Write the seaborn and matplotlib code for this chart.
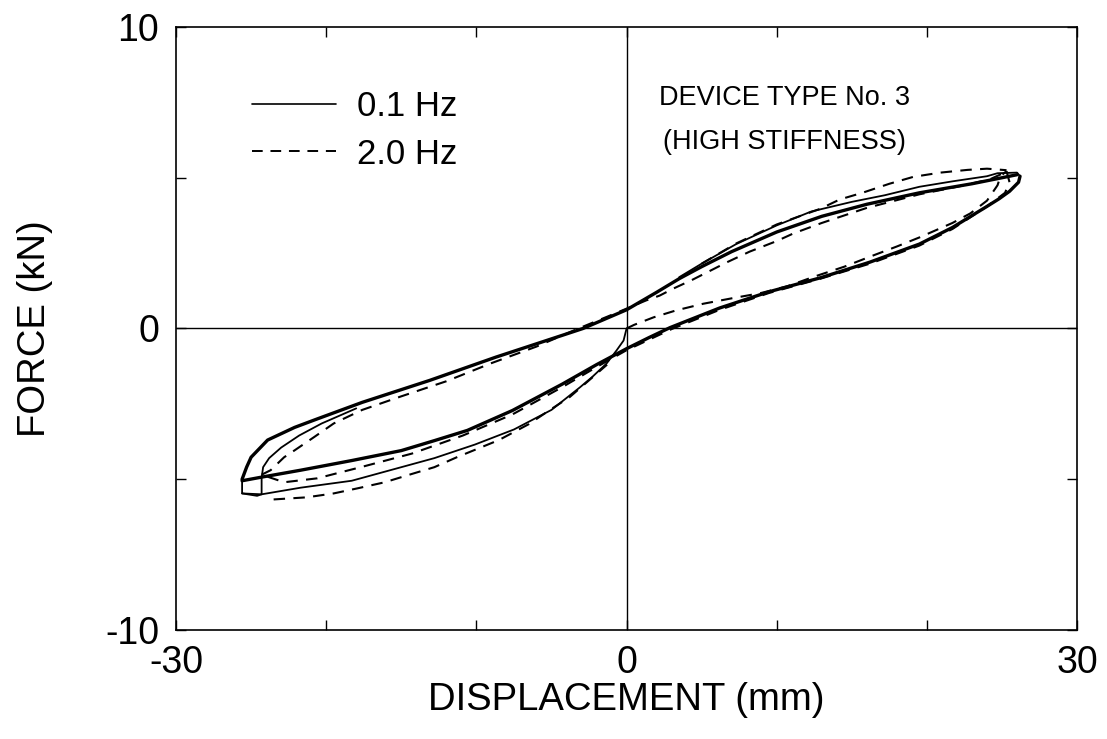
import matplotlib
matplotlib.use("Agg")
import matplotlib.pyplot as plt
import pandas as pd
import seaborn as sns
from matplotlib.lines import Line2D

sns.set_theme(style="ticks")
plt.rcParams['font.family'] = ['Liberation Sans', 'DejaVu Sans']
plt.rcParams['text.color'] = 'black'
plt.rcParams['axes.labelcolor'] = 'black'
plt.rcParams['xtick.color'] = 'black'
plt.rcParams['ytick.color'] = 'black'

# ---------------- data (displacement mm, force kN) ----------------
# 0.1 Hz (solid)
sv_d = [0, -0.2, -0.67, -1.33, -2.27, -3.1, -5.0, -7.5, -10.1, -12.8, -16.1, -18.3, -21.7, -24.3, -25.6, -25.6]
sv_f = [0, -0.4, -0.73, -1.16, -1.6, -1.95, -2.7, -3.35, -3.85, -4.3, -4.75, -5.05, -5.28, -5.5, -5.47, -5.0]

su_d = [-25.6, -25.3, -25.0, -23.9, -22.1, -20.6, -17.6, -13.1, -8.7, -4.3, -2.9, 0, 2, 3.5, 5, 7, 10, 13, 16, 19.5, 23, 24.7, 26]
su_f = [-5.0, -4.6, -4.27, -3.7, -3.28, -3.0, -2.45, -1.72, -0.95, -0.23, 0.0, 0.62, 1.2, 1.65, 2.05, 2.55, 3.2, 3.72, 4.12, 4.5, 4.8, 4.97, 5.1]

so_d = [3.5, 5, 7.3, 10, 12.3, 15, 17.2, 19.5, 21.7, 24, 24.7, 26, 26.2]
so_f = [1.7, 2.15, 2.8, 3.42, 3.88, 4.2, 4.42, 4.7, 4.88, 5.05, 5.15, 5.17, 5.05]

sl_d = [26.2, 26.1, 25.8, 25.5, 24.8, 24, 21.7, 19.5, 16.2, 12.9, 9.5, 6.2, 2.9, 1.5, 0, -2, -4.3, -7.6, -10.6, -12.8, -15, -18.3, -21.7, -24.3, -25.6]
sl_f = [5.05, 4.85, 4.7, 4.55, 4.3, 4.05, 3.35, 2.8, 2.2, 1.68, 1.22, 0.68, 0.03, -0.3, -0.67, -1.2, -1.85, -2.72, -3.38, -3.72, -4.05, -4.38, -4.7, -4.93, -5.05]

si_d = [-25.6, -24.6, -24.3, -24.3, -24.2, -23.8, -23.0, -21.8, -20.3, -18.0]
si_f = [-5.47, -5.55, -5.5, -4.95, -4.6, -4.3, -3.95, -3.55, -3.15, -2.65]

# 2.0 Hz (dashed)
dv_d = [0, 0.5, 1.8, 3.3, 5.1, 7.0, 8.9, 10.7, 12.5, 14.5, 16.2, 18.0, 19.5, 21.7, 22.9, 24.0, 24.7, 24.9, 25.3]
dv_f = [0, 0.12, 0.37, 0.6, 0.82, 1.0, 1.17, 1.4, 1.72, 2.05, 2.38, 2.72, 3.02, 3.5, 3.82, 4.24, 4.75, 5.05, 5.22]

do_d = [5, 7.3, 10, 11.5, 12.9, 14.2, 15.7, 17.5, 19.1, 20.9, 22.7, 24, 25.3]
do_f = [2.15, 2.82, 3.45, 3.72, 3.97, 4.28, 4.5, 4.8, 5.03, 5.17, 5.26, 5.3, 5.25]

du_d = [-24.3, -23.7, -22.8, -22.1, -20.8, -19.5, -17.6, -15, -12, -9, -6, -3.3, -1, 1.3, 2.2, 3.1, 4.4, 6.7, 8.2, 10, 11.1, 13, 16, 19.5, 22.5, 24.2, 25.3]
du_f = [-4.85, -4.7, -4.27, -4.04, -3.6, -3.15, -2.7, -2.25, -1.75, -1.15, -0.6, -0.02, 0.45, 0.93, 1.09, 1.32, 1.62, 2.2, 2.55, 2.9, 3.15, 3.5, 4.0, 4.45, 4.75, 4.95, 5.2]

dl_d = [25.3, 25.5, 25.2, 24, 21.7, 19.5, 16.2, 12.9, 9.5, 6.2, 3, 0, -2, -4.3, -7.6, -10.9, -14.3, -17.7, -20.6, -22.8, -24.3]
dl_f = [5.22, 4.85, 4.5, 4.05, 3.3, 2.75, 2.15, 1.65, 1.18, 0.62, -0.02, -0.72, -1.28, -1.95, -2.85, -3.55, -4.15, -4.6, -4.97, -5.1, -4.85]

dol_d = [-23.5, -21.3, -19.5, -17.9, -16.1, -14.6, -12.8, -11.3, -8.5, -6.5, -5.1, -3.8, -2.5, -1.3]
dol_f = [-5.67, -5.6, -5.47, -5.3, -5.1, -4.87, -4.6, -4.27, -3.7, -3.17, -2.7, -2.28, -1.72, -1.2]

freq_labels = ["0.1 Hz", "2.0 Hz"]
x_ticks = [-30, 0, 30]
y_ticks = [-10, 0, 10]

# segment table: name, disp, force, frequency, line width
segments = [
    ("sv", sv_d, sv_f, freq_labels[0], 1.3),
    ("su", su_d, su_f, freq_labels[0], 2.4),
    ("so", so_d, so_f, freq_labels[0], 1.3),
    ("sl", sl_d, sl_f, freq_labels[0], 2.4),
    ("si", si_d, si_f, freq_labels[0], 1.3),
    ("dv", dv_d, dv_f, freq_labels[1], 1.5),
    ("do", do_d, do_f, freq_labels[1], 1.5),
    ("du", du_d, du_f, freq_labels[1], 1.5),
    ("dl", dl_d, dl_f, freq_labels[1], 1.5),
    ("dol", dol_d, dol_f, freq_labels[1], 1.5),
]
rows = []
for name, d, f, fr, lw in segments:
    for i, (a, b) in enumerate(zip(d, f)):
        rows.append({"seg": name, "order": i, "disp": a, "force": b, "freq": fr, "lw": lw})
df = pd.DataFrame(rows)

fig = plt.figure(figsize=(11.07, 7.39), dpi=100)
ax = fig.add_axes([0.159, 0.1475, 0.814, 0.816])

ax.axhline(0, color="black", lw=1.0, zorder=1)
ax.axvline(0, color="black", lw=1.0, zorder=1)

dash_pat = (0, (5.5, 4))
for name, d, f, fr, lw in segments:
    sub = df[df["seg"] == name]
    ls = "-" if fr == freq_labels[0] else dash_pat
    sns.lineplot(data=sub, x="disp", y="force", sort=False, estimator=None,
                 color="black", lw=lw, linestyle=ls, ax=ax, legend=False, zorder=3)

ax.set_xlim(-30, 30)
ax.set_ylim(-10, 10)
ax.set_xticks(x_ticks)
ax.set_xticklabels([str(t) for t in x_ticks])
ax.set_yticks(y_ticks)
ax.set_yticklabels([str(t) for t in y_ticks])
ax.set_xticks([-20, -10, 10, 20], minor=True)
ax.set_yticks([-5, 5], minor=True)
ax.tick_params(axis="both", which="both", direction="in", top=True, right=True,
               length=7, width=1.0, color="black")
ax.tick_params(axis="x", which="major", labelsize=27, pad=11)
ax.tick_params(axis="y", which="major", labelsize=27, pad=12)
for sp in ax.spines.values():
    sp.set_linewidth(1.2)
    sp.set_color("black")

ax.set_xlabel("DISPLACEMENT (mm)", fontsize=27.5)
ax.set_ylabel("FORCE (kN)", fontsize=27.5)
ax.xaxis.set_label_coords(0.5, -0.086)
ax.yaxis.set_label_coords(-0.136, 0.5)

ax.text(10.5, 7.65, "DEVICE TYPE No. 3", fontsize=19.5, ha="center", va="center")
ax.text(10.5, 6.19, "(HIGH STIFFNESS)", fontsize=19.5, ha="center", va="center")

handles = [Line2D([], [], color="black", lw=1.2, linestyle="-"),
           Line2D([], [], color="black", lw=1.4, linestyle=dash_pat)]
ax.legend(handles, freq_labels, loc="upper left", bbox_to_anchor=(0.084, 0.8955),
          frameon=False, fontsize=25, handlelength=2.42, handletextpad=0.6,
          labelspacing=0.42, borderpad=0, borderaxespad=0)

fig.savefig("out.png", dpi=100, facecolor="white")
